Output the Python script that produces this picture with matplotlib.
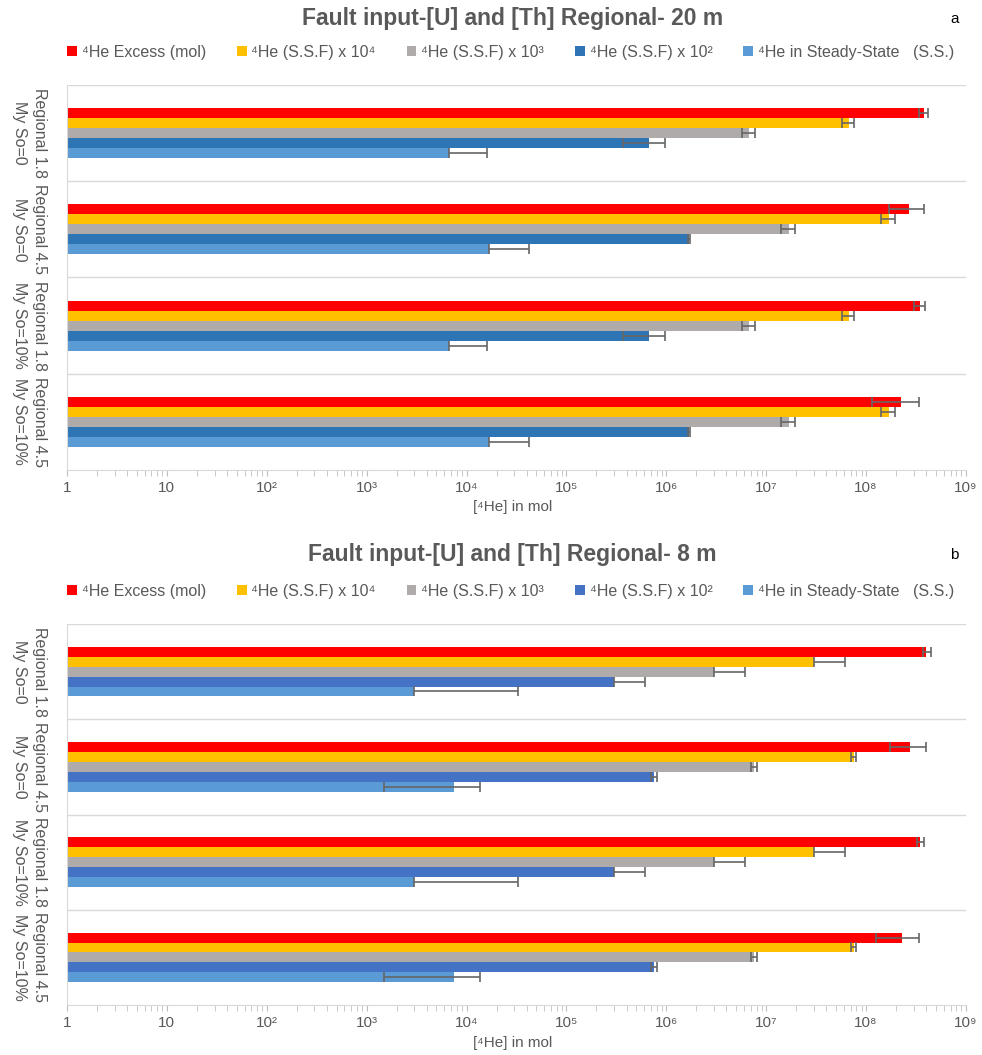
import numpy as np
import matplotlib.pyplot as plt
from matplotlib.ticker import FixedLocator, LogLocator, NullFormatter

plt.rcParams['font.family'] = ['Liberation Sans', 'DejaVu Sans']

categories = ['Regional 1.8\nMy So=0', 'Regional 4.5\nMy So=0',
              'Regional 1.8\nMy So=10%', 'Regional 4.5\nMy So=10%']
series = ['⁴He Excess (mol)', '⁴He (S.S.F) x 10⁴', '⁴He (S.S.F) x 10³',
          '⁴He (S.S.F) x 10²', '⁴He in Steady-State   (S.S.)']

# panel a: 20 m
a_excess = [3.8e8, 2.7e8, 3.45e8, 2.25e8]
a_ssf4 = [6.7e7, 1.68e8, 6.7e7, 1.68e8]
a_ssf3 = [6.7e6, 1.68e7, 6.7e6, 1.68e7]
a_ssf2 = [6.7e5, 1.68e6, 6.7e5, 1.68e6]
a_ss = [6.7e3, 1.68e4, 6.7e3, 1.68e4]
a_err_lo = [[0.4e8, 1.0e8, 0.45e8, 1.1e8], [0.9e7, 0.27e8, 0.9e7, 0.27e8],
            [1.0e6, 0.27e7, 1.0e6, 0.27e7], [3.0e5, 0.05e6, 3.0e5, 0.05e6],
            [0, 0, 0, 0]]
a_err_hi = [[0.4e8, 1.1e8, 0.45e8, 1.15e8], [0.9e7, 0.27e8, 0.9e7, 0.27e8],
            [1.0e6, 0.27e7, 1.0e6, 0.27e7], [3.0e5, 0.05e6, 3.0e5, 0.05e6],
            [9.5e3, 2.5e4, 9.5e3, 2.5e4]]

# panel b: 8 m
b_excess = [4.0e8, 2.75e8, 3.5e8, 2.3e8]
b_ssf4 = [3.0e7, 7.5e7, 3.0e7, 7.5e7]
b_ssf3 = [3.0e6, 7.5e6, 3.0e6, 7.5e6]
b_ssf2 = [3.0e5, 7.5e5, 3.0e5, 7.5e5]
b_ss = [3.0e3, 7.5e3, 3.0e3, 7.5e3]
b_err_lo = [[0.3e8, 1.0e8, 0.3e8, 1.05e8], [0, 0.5e7, 0, 0.5e7],
            [0, 0.5e6, 0, 0.5e6], [0, 0.5e5, 0, 0.5e5],
            [0, 6.0e3, 0, 6.0e3]]
b_err_hi = [[0.5e8, 1.25e8, 0.3e8, 1.1e8], [3.2e7, 0.5e7, 3.2e7, 0.5e7],
            [3.2e6, 0.5e6, 3.2e6, 0.5e6], [3.1e5, 0.5e5, 3.1e5, 0.5e5],
            [3.0e4, 6.0e3, 3.0e4, 6.0e3]]

tick_vals = [1, 10, 1e2, 1e3, 1e4, 1e5, 1e6, 1e7, 1e8, 1e9]
tick_labels = ['1', '10', '10²', '10³', '10⁴', '10⁵', '10⁶', '10⁷', '10⁸', '10⁹']

colors_a = ['#FF0000', '#FFC000', '#AFABAB', '#2E75B6', '#5B9BD5']
colors_b = ['#FF0000', '#FFC000', '#AFABAB', '#4472C4', '#5B9BD5']

txt = '#595959'
fig = plt.figure(figsize=(9.82, 10.55), dpi=100)


def panel(rect, data, lo, hi, colors, title, letter, ty, ly, xy):
    ax = fig.add_axes(rect)
    y = np.arange(len(categories))
    h = 0.104
    for i, vals in enumerate(data):
        ax.barh(y + (i - 2) * h, vals, height=h, color=colors[i],
                label=series[i], zorder=2)
        ax.errorbar(vals, y + (i - 2) * h, xerr=[lo[i], hi[i]], fmt='none',
                    ecolor='#666666', elinewidth=1.2, capsize=3.5,
                    capthick=1.2, zorder=3)
    ax.set_xscale('log')
    ax.set_xlim(1, 1e9)
    ax.set_ylim(3.5, -0.5)
    ax.set_yticks(y)
    ax.set_yticklabels(categories, rotation=-90, va='center', ha='center',
                       fontsize=11.5, color=txt, linespacing=1.45)
    ax.tick_params(axis='y', length=0, pad=27)
    ax.xaxis.set_major_locator(FixedLocator(tick_vals))
    ax.set_xticklabels(tick_labels, fontsize=11, color=txt)
    ax.xaxis.set_minor_locator(LogLocator(base=10, subs=np.arange(2, 10)))
    ax.xaxis.set_minor_formatter(NullFormatter())
    ax.tick_params(axis='x', which='both', length=4, color='#BFBFBF',
                   pad=4)
    for yy in [-0.5, 0.5, 1.5, 2.5]:
        ax.axhline(yy, color='#D9D9D9', lw=1, zorder=1)
    for s in ['top', 'right']:
        ax.spines[s].set_visible(False)
    for s in ['left', 'bottom']:
        ax.spines[s].set_color('#D9D9D9')
    fig.text(0.522, xy, '[⁴He] in mol', ha='center', va='center',
             fontsize=11, color=txt)
    fig.text(0.522, ty, title, ha='center', va='center', fontsize=16.5,
             fontweight='bold', color=txt)
    fig.text(0.972, ty, letter, ha='center', va='center', fontsize=11,
             color='black')
    h_, l_ = ax.get_legend_handles_labels()
    fig.legend(h_, l_, loc='center', bbox_to_anchor=(0.52, ly), ncol=5,
               frameon=False, fontsize=11.5, handlelength=0.6,
               handleheight=0.6, handletextpad=0.3, columnspacing=1.95,
               labelcolor=txt)
    return ax


panel([0.0682, 0.5545, 0.9155, 0.365],
      [a_excess, a_ssf4, a_ssf3, a_ssf2, a_ss], a_err_lo, a_err_hi,
      colors_a, 'Fault input-[U] and [Th] Regional- 20 m', 'a',
      0.982, 0.9507, 0.5194)
panel([0.0682, 0.0474, 0.9155, 0.3611],
      [b_excess, b_ssf4, b_ssf3, b_ssf2, b_ss], b_err_lo, b_err_hi,
      colors_b, 'Fault input-[U] and [Th] Regional- 8 m', 'b',
      0.474, 0.4398, 0.0114)

fig.savefig('out.png', dpi=100)
